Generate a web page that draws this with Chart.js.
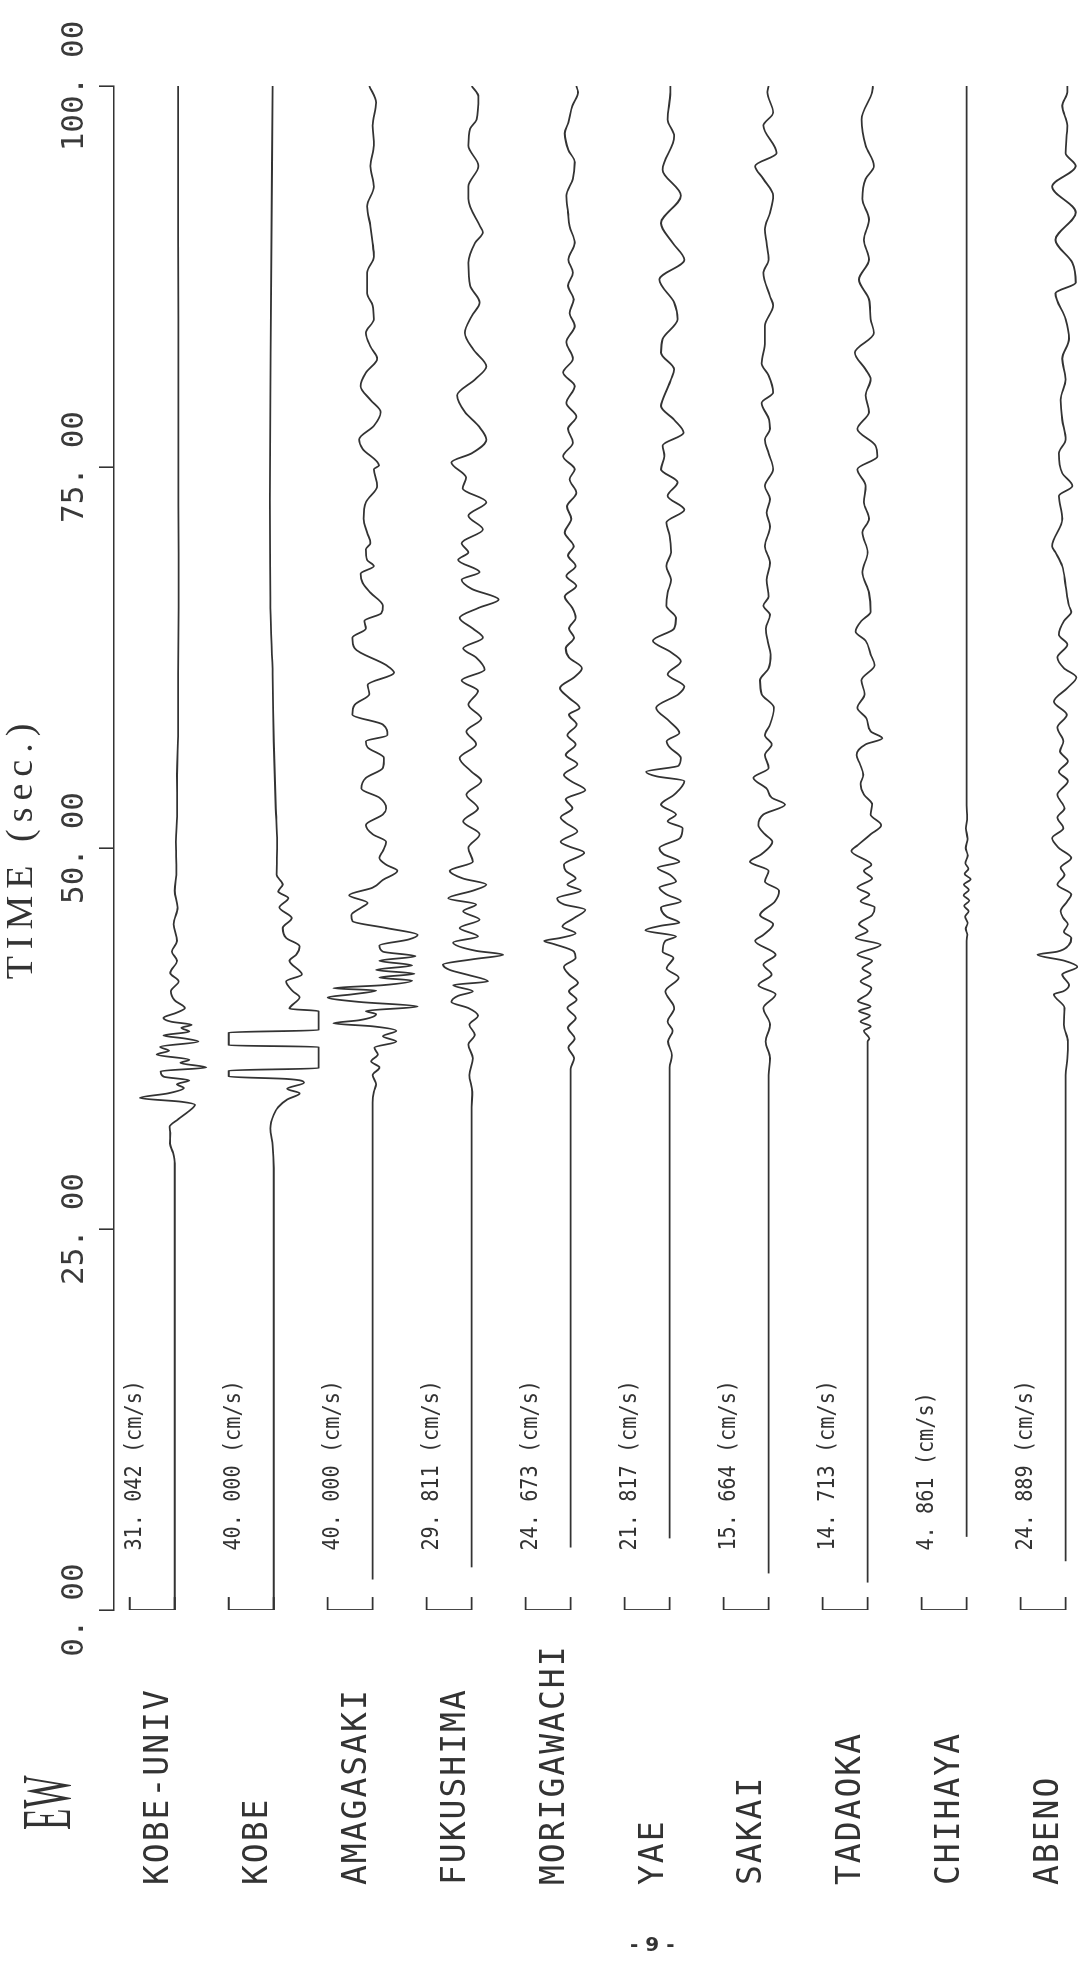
<!DOCTYPE html>
<html lang="en">
<head>
<meta charset="UTF-8">
<title>EW velocity records</title>
<script src="https://cdn.jsdelivr.net/npm/chart.js"></script>
<style>
  html, body { margin: 0; padding: 0; background: #fff; overflow: hidden; }
  body { width: 1078px; height: 1965px; position: relative; }
  /* the sheet is printed sideways: draw it landscape, then turn it */
  #frame { position: absolute; left: 0; top: 0; width: 1965px; height: 1078px;
           transform-origin: 0 0; transform: translate(0, 1965px) rotate(-90deg); }
  #page { position: absolute; left: 630px; top: 1932px; color: #333;
          font: bold 20px 'DejaVu Sans', sans-serif; }
</style>
</head>
<body>
<div id="frame"><canvas id="records" width="1965" height="1078"></canvas></div>
<div id="page">- 9 -</div>
<script>
const stations = ['KOBE-UNIV', 'KOBE', 'AMAGASAKI', 'FUKUSHIMA', 'MORIGAWACHI',
                  'YAE', 'SAKAI', 'TADAOKA', 'CHIHAYA', 'ABENO'];
const peakLabels = ['31. 042 (cm/s)', '40. 000 (cm/s)', '40. 000 (cm/s)', '29. 811 (cm/s)', '24. 673 (cm/s)',
                    '21. 817 (cm/s)', '15. 664 (cm/s)', '14. 713 (cm/s)', '4. 861 (cm/s)', '24. 889 (cm/s)'];
const timeTicks = [0, 25, 50, 75, 100];
const timeTickLabels = ['0. 00', '25. 00', '50. 00', '75. 00', '100. 00'];
const scaleBar = 40; // cm/s covered by each bracket

// velocity records, [time (s), velocity (cm/s)]
const kobeUniv = [[0,0],[29.3,0],[30.0,-1.5],[30.6,-4.2],[31.3,-4],[31.7,-4.6],[32.2,3],[32.7,12],[33.15,18],[33.35,6],
  [33.6,-31],[33.9,-6],[34.25,8],[34.5,2],[34.75,13],[35.0,-10],[35.35,-12.5],[35.6,28],[35.9,5],[36.1,13],
  [36.45,-16],[36.7,-5],[36.95,-13],[37.3,21],[37.5,9],[37.7,-10],[37.95,13],[38.2,6],[38.4,15],[38.6,-3],
  [38.85,-10],[39.2,2],[39.5,9],[40.0,0],[40.6,-3.5],[41.25,3.5],[41.8,-4],[42.6,2],[43.2,-2.5],[43.9,2],
  [45.0,-1],[46.1,2.5],[47.2,0],[48.5,1.5],[50.4,1],[52.5,2.2],[54.8,2],[58.0,3],[61.4,3],[65.8,3.5],
  [72.8,3.3],[80.0,3.3],[90.0,3],[100,3]];
const kobe = [[0,0],[29.0,0],[30.5,-1],[31.6,-3],[32.5,0],[33.0,4],[33.5,12],[33.9,23],[34.2,12],[34.6,27],
  [34.85,11],[35.0,-40],[35.4,-40],[35.55,40],[36.95,40],[37.05,-40],[37.9,-40],[38.05,40],[39.3,40],[39.45,14],
  [40.2,23],[40.6,17],[41.25,11],[41.7,25],[42.6,14],[43.0,20],[43.55,23],[44.1,11],[44.75,8],[45.4,16],
  [46.1,5],[46.7,13],[47.15,4],[47.6,8],[48.25,2.5],[50.4,3],[52.6,1.8],[57.0,0],[61.4,-1],[65.75,-3],
  [72.8,-3.5],[82.5,-2.7],[100,-1]];
const amagasaki = [[2.0,0],[33.3,0],[34.0,1],[34.5,3],[35.1,0],[35.6,6],[36.0,-1.5],[36.45,4.5],[36.9,1.5],[37.3,21],
  [37.65,9],[38.0,21],[38.3,0],[38.5,-35],[38.7,-12],[39.1,3],[39.3,-6],[39.6,40],[39.9,-12],[40.2,-40],
  [40.4,-18],[40.65,3],[40.8,-35],[41.0,9],[41.3,35],[41.5,6],[41.75,37],[42.0,3],[42.3,35],[42.6,6],
  [42.9,38],[43.2,9],[43.6,6],[44.0,32],[44.3,40],[44.75,12],[45.2,-18],[45.6,-19],[46.1,-10],[46.4,-4.5],
  [46.9,-21],[47.4,0],[47.9,9],[48.5,22],[48.9,12],[49.35,6],[49.8,9],[50.4,12],[50.9,0],[51.5,-6],
  [52.2,9],[52.6,12],[53.3,6],[53.9,-10],[54.6,-6],[55.25,9],[55.9,10],[56.6,-4.5],[57.0,-6],[57.4,13],
  [58.1,9],[58.75,-18],[59.4,-16],[60.1,-3],[60.7,-4.5],[61.5,19],[62.0,12],[63.1,-16],[63.8,-18],[64.4,-6],
  [64.9,-7.5],[65.4,7.5],[65.9,9],[66.75,-2],[67.4,-9],[68.0,-10.7],[68.5,1],[68.9,-5],[69.6,-6],[70.0,-2],
  [70.7,-5],[71.6,-8],[72.7,-6],[73.75,4],[74.85,1],[75.1,5.6],[76.2,-9],[76.8,-12],[77.7,1],[78.6,7],
  [79.4,-2],[80.3,-10.7],[81.2,-6],[82.1,4],[82.9,-2],[83.8,-6],[84.7,1],[85.6,0],[86.4,-5],[87.75,-5],
  [88.8,1],[89.7,0],[90.8,-2],[92.1,-5],[93.4,1],[94.75,-2],[96.1,1],[97.4,0],[98.9,3],[100,-3]];
const fukushima = [[2.8,0],[33.0,0],[34.0,0.5],[35.1,-2],[36.2,1],[37.1,-3],[37.75,2.7],[38.4,-2],[39.0,5.6],[39.5,-3],
  [39.9,-18],[40.3,-12],[40.6,1],[41.0,-16.6],[41.25,14.5],[41.7,-4.7],[42.0,-19.5],[42.35,-25.5],[42.7,1],[43.0,28],
  [43.25,4],[43.8,-16.6],[44.2,5.6],[44.75,-10.7],[45.3,7],[45.85,-7.7],[46.3,4],[46.7,-21],[47.2,1],[47.6,13],
  [48.0,-7.7],[48.5,-19.5],[49.1,1],[50.0,-3],[50.9,7],[51.75,-7.7],[52.6,5.6],[53.5,-4.7],[54.4,8.6],[55.0,0],
  [55.9,-10.7],[56.8,4],[57.65,-4.7],[58.5,8.6],[59.4,-3],[60.3,5.6],[61.0,-9],[61.7,11.5],[62.5,4],[63.1,-7.7],
  [63.8,10],[64.4,1],[65.1,-10.7],[65.75,6],[66.3,24],[67.0,0],[67.6,-9],[68.1,7],[68.9,-12],[69.4,-3],
  [70.0,-9],[70.9,10],[71.8,-3],[72.7,13],[73.6,-8],[74.3,-5],[75.3,-18],[75.9,0],[76.8,13],[77.7,6],
  [78.6,-6],[79.7,-13],[80.75,3],[81.6,13],[82.7,1.5],[83.8,-6],[84.9,0],[85.8,7],[86.9,-1.5],[88.4,-3],
  [89.7,3],[90.4,10],[90.8,7.4],[92.6,-3],[93.4,-3],[94.75,6],[96.1,-3],[97.2,-1.5],[97.8,4.4],[99.3,6],[100,0]];
const morigawachi = [[4.1,0],[35.5,0],[36.2,3],[36.9,-2],[37.5,3.5],[38.2,-2.4],[38.85,4.5],[39.5,-3],[40.05,5.3],[40.6,-1.5],
  [41.15,6.5],[41.7,-1.5],[42.2,-6],[42.8,4.4],[43.2,3],[43.7,-15],[43.9,-23.7],[44.1,-9],[44.4,4.4],[44.85,-7.4],
  [45.4,3],[45.95,13],[46.3,-6],[46.7,-12],[47.2,9],[47.6,-3],[48.0,4.4],[48.5,-4.4],[48.9,-6],[49.7,12],
  [50.1,-1.5],[50.4,-9],[51.1,6],[51.65,-4.4],[52.0,-9],[52.6,1.5],[53.2,-4.4],[53.8,13],[54.4,0],[54.8,-6],
  [55.5,6],[56.1,-4.4],[56.8,4.4],[57.4,-3],[58.1,5.3],[58.75,-1.5],[59.2,8],[59.85,-1.5],[60.5,-9.5],[61.2,3],
  [61.8,10],[62.5,-1.5],[63.1,-4.4],[63.8,3],[64.4,-1.5],[65.1,4.4],[65.75,1.5],[66.5,-5.3],[67.2,5],[67.85,-3.9],
  [68.5,4.4],[69.2,-2.4],[69.8,2.7],[70.7,-5.3],[71.6,0.5],[72.4,-3.3],[73.3,5],[74.2,-1],[74.85,3.6],[75.7,-6.8],
  [76.6,2],[77.5,-2.4],[78.3,5],[79.2,-3.9],[80.3,3.6],[81.2,-6.8],[82.1,2],[83.2,-3.9],[84.25,3.6],[85.1,-1],
  [86.0,2.7],[86.9,-2.4],[87.75,2],[88.6,-2],[89.7,3.6],[90.8,-1],[91.7,-2.4],[92.8,-3.9],[93.9,2],[95.0,3.6],
  [95.8,-2],[96.9,-5.3],[97.6,-2],[98.7,1.5],[99.6,6.5],[100,5]];
const yae = [[4.7,0],[35.6,0],[36.4,2],[37.3,-1.5],[38.0,2.7],[38.6,-1.8],[39.5,4],[40.6,-3.9],[41.5,8],[42.1,-2.7],
  [42.8,3.3],[43.2,-6.2],[43.9,-3.9],[44.2,5.6],[44.6,-21.5],[44.9,-7.7],[45.1,8.6],[45.5,-2.7],[46.1,-7.7],[46.5,10],
  [46.95,-2.7],[47.4,-9.2],[47.8,5.6],[48.25,0],[48.7,-10.7],[49.1,8.6],[49.6,-5.6],[50.0,-9.2],[50.65,9.2],[51.3,11.5],
  [51.75,-1.8],[52.2,5.6],[52.85,-7.7],[53.5,4],[54.4,13],[54.7,-11.5],[55.0,-21],[55.4,8],[55.9,10],[56.6,0],
  [57.0,-2.7],[57.55,8.6],[58.3,0],[59.2,-12],[60.1,8],[60.6,13],[61.4,-1.8],[62.25,10],[62.9,0],[63.6,-15],
  [64.4,4],[65.1,5.6],[65.9,-3],[66.75,-1.8],[67.6,1.2],[68.5,-3],[69.4,1.2],[70.5,0],[71.35,-3],[72.2,13],
  [73.1,-1.8],[74.0,7],[74.85,-7.7],[75.7,-4.7],[76.4,-6.2],[77.25,12.4],[78.1,4],[79.0,-7.7],[79.4,-6.2],[80.75,1.2],
  [81.4,4],[82.5,-7.7],[83.4,-6.2],[84.7,7],[85.8,4],[87.3,-9.2],[88.6,13],[89.7,2.7],[91.0,-7.7],[92.8,10],
  [94.5,-6.2],[96.7,4],[97.8,-1.8],[99.6,0.6],[100,0.6]];
const sakai = [[2.4,0],[35.1,0],[36.2,1.2],[37.3,-2.7],[38.4,1.2],[39.5,-4.7],[40.4,6.2],[41.0,-9.2],[41.7,2.7],[42.35,-4.7],
  [43.0,6.2],[43.9,-12],[44.3,-4.7],[45.0,4],[45.6,-7.7],[46.5,5.6],[47.2,9.2],[47.8,-3.3],[48.5,0],[49.1,-16.6],
  [49.6,-6.2],[50.4,3.3],[50.9,-3.3],[51.5,-9.2],[52.2,-4.7],[52.85,14.5],[53.3,2.7],[53.9,-1.8],[54.6,-13.6],[55.25,0],
  [56.1,-3.3],[56.8,2.7],[57.4,-3.3],[58.1,1.2],[59.2,4.7],[60.1,-6.2],[61.0,-7.7],[61.8,0],[62.7,1.8],[63.6,-1],
  [64.4,-2.4],[65.3,1.2],[65.9,-4.7],[66.5,0],[67.6,-1.8],[68.7,1.2],[69.8,-3.3],[71.1,1.2],[72.0,-1.8],[72.9,1.2],
  [73.75,-3.3],[74.85,4],[75.9,0],[76.8,-3.3],[77.5,1.2],[78.1,0.5],[79.2,-6.2],[79.9,4],[81.0,0],[81.8,-6.2],
  [83.2,-3.3],[84.25,-3.3],[85.6,4],[86.2,1.2],[87.75,-4.7],[88.6,0],[89.7,-1.8],[90.6,-3.3],[91.7,1.2],[92.8,4],
  [93.9,-4.7],[94.75,-12],[95.6,7],[97.4,-4.7],[98.25,4],[99.6,-1.2],[100,0]];
const tadaoka = [[1.8,0],[37.3,0],[37.5,1.5],[38.0,-3.3],[38.3,2.7],[38.6,-6.2],[39.0,2],[39.3,-7.7],[39.6,2.7],[39.95,-8.6],
  [40.4,0],[40.8,3.3],[41.25,-6.2],[41.7,2.7],[42.1,-4.7],[42.6,4],[43.0,-9.2],[43.65,11.5],[44.1,-10.7],[44.55,0],
  [45.0,-7.7],[45.6,4],[46.1,6.2],[46.5,-6.2],[46.95,1.5],[47.4,-9.2],[48.0,3.9],[48.5,-3.3],[48.9,3.3],[49.8,-14.5],
  [50.2,-8.6],[50.9,2.7],[51.5,12],[52.2,2.7],[52.85,4],[53.5,-3.3],[54.2,-6.2],[54.8,-3.9],[55.5,-6.8],[56.1,-9.8],
  [56.8,-1.8],[57.2,13],[57.65,2.7],[58.5,-1],[59.2,-9.2],[60.1,-2.7],[61.0,-5.6],[62.0,6.2],[62.7,2.7],[63.6,-1.8],
  [64.2,-10.7],[64.9,-5.6],[65.5,2.7],[66.75,1.2],[68.1,-4.7],[69.4,0],[70.7,-4.7],[71.6,1.2],[72.7,-3.3],[73.75,-1.8],
  [74.85,-9.2],[75.7,8.6],[76.4,7],[77.5,-9.2],[78.6,1.2],[79.7,-1.8],[80.75,2.7],[81.4,-1.8],[82.5,-11.3],[83.8,5.6],
  [84.7,2.7],[86.0,1.2],[87.3,-7.7],[88.6,1.2],[89.9,-3.3],[91.25,1.2],[92.6,-4.7],[93.9,-1.8],[94.75,5.6],[96.1,-1.8],
  [97.8,-5.3],[99.6,4],[100,4.7]];
const chihaya = [[4.8,0],[43.9,0],[44.3,0.6],[44.7,-0.8],[45.1,0.9],[45.5,-1.4],[45.85,1.8],[46.2,-2.2],[46.55,2.4],[46.9,-2.6],
  [47.25,2.0],[47.6,-2.4],[47.95,3.5],[48.3,-1.8],[48.65,1.6],[49.0,-1.2],[49.5,1.0],[50.0,-0.8],[50.6,0.8],[51.3,-0.6],
  [52.0,0.5],[52.8,0],[100,0]];
const abeno = [[3.2,0],[35.1,0],[36.2,1.5],[37.3,2],[38.4,-1.5],[39.5,-1],[40.4,-10.4],[40.6,-2],[41.0,3],[41.7,-3],
  [42.2,10.4],[42.6,-1],[43.0,-25],[43.2,-7.4],[43.65,3],[44.1,5],[44.5,-1.5],[45.0,2],[45.4,-2],[45.85,-4.4],
  [46.5,1.5],[46.95,5],[47.6,-7.4],[48.25,-1],[48.7,-4.4],[49.35,5],[50.0,-6],[50.65,-12],[51.3,-2],[52.0,-7.4],
  [52.6,-1],[53.5,-7.4],[54.4,2],[55.0,-6],[55.7,2],[56.35,-5],[57.0,-2],[57.9,-7.4],[58.75,1],[59.6,-10.4],
  [60.5,1.5],[61.2,9.5],[61.8,-1.5],[62.5,-7.4],[63.35,1.5],[64.0,-6],[64.9,-1.5],[65.5,5],[65.9,3],[67.2,0],
  [68.5,-3],[69.4,-9],[69.8,-12],[71.6,-3],[73.1,-6],[73.75,6],[74.6,-3],[75.9,-6],[76.8,0],[78.1,-3],
  [79.4,-4.4],[80.75,0],[82.1,-3],[83.4,3],[84.7,0],[86.4,-9],[87.1,9],[88.4,6],[89.9,-9],[91.7,9],
  [93.4,-12],[94.75,9],[95.6,0],[97.4,1.5],[98.7,-3],[99.6,1.5],[100,1.5]];

const traces = [kobeUniv, kobe, amagasaki, fukushima, morigawachi, yae, sakai, tadaoka, chihaya, abeno];

// layout of the stacked records (in cm/s along the amplitude axis)
const firstZero = 54;
const spacing = 88;
const bracketTick = 0.85; // s
const ink = '#333';

const datasets = [];
traces.forEach((rec, i) => {
  const zero = firstZero + i * spacing;
  datasets.push({
    data: rec.map(([t, v]) => ({ x: t, y: zero + v })),
    showLine: true, borderColor: ink, borderWidth: 1.8, pointRadius: 0,
    cubicInterpolationMode: 'monotone'
  });
  datasets.push({
    data: [
      { x: bracketTick, y: zero - scaleBar }, { x: 0, y: zero - scaleBar },
      { x: 0, y: zero }, { x: bracketTick, y: zero }
    ],
    showLine: true, borderColor: ink, borderWidth: 1.8, pointRadius: 0, tension: 0.0001
  });
});

const recordText = {
  id: 'recordText',
  afterDraw(chart) {
    const { ctx, scales: { x, y } } = chart;
    const put = (text, px, py, font, opts = {}) => {
      ctx.save();
      ctx.fillStyle = ink;
      ctx.font = font;
      ctx.textBaseline = 'middle';
      ctx.textAlign = opts.align || 'left';
      ctx.letterSpacing = (opts.spacing || 0) + 'px';
      ctx.translate(px, py);
      ctx.scale(opts.sx || 1, 1);
      ctx.fillText(text, 0, 0);
      ctx.restore();
    };
    stations.forEach((name, i) => {
      const zero = firstZero + i * spacing;
      put(name, 80, y.getPixelForValue(zero - 14), "33px 'DejaVu Sans Mono'", { spacing: 2 });
      put(peakLabels[i], x.getPixelForValue(3.9), y.getPixelForValue(zero - 35),
          "23px 'DejaVu Sans Mono'", { sx: 0.88 });
    });
    put('EW', 135, 52, "70px 'Liberation Serif'", { sx: 0.5 });
    put('TIME (sec.)', x.getPixelForValue(50), 22, "38px 'Liberation Serif'", { align: 'center', spacing: 7 });
  }
};

new Chart(document.getElementById('records'), {
  type: 'scatter',
  data: { datasets },
  options: {
    responsive: false,
    animation: false,
    events: [],
    layout: { padding: { left: 355, right: 86, top: 0, bottom: 0 } },
    plugins: { legend: { display: false }, tooltip: { enabled: false } },
    scales: {
      x: {
        type: 'linear', position: 'top', min: 0, max: 100,
        afterFit: s => { s.height = 114; },
        afterBuildTicks: s => { s.ticks = timeTicks.map(v => ({ value: v })); },
        ticks: {
          callback: v => timeTickLabels[timeTicks.indexOf(v)],
          color: '#3a3a3a', padding: 5, maxRotation: 0, autoSkip: false,
          font: { family: 'DejaVu Sans Mono', size: 31 }
        },
        grid: { drawOnChartArea: false, drawTicks: true, tickLength: 15, color: ink, lineWidth: 1.6 },
        border: { display: true, color: ink, width: 1.6 }
      },
      y: { type: 'linear', display: false, min: 0, max: 857, reverse: true }
    }
  },
  plugins: [recordText]
});
</script>
</body>
</html>
